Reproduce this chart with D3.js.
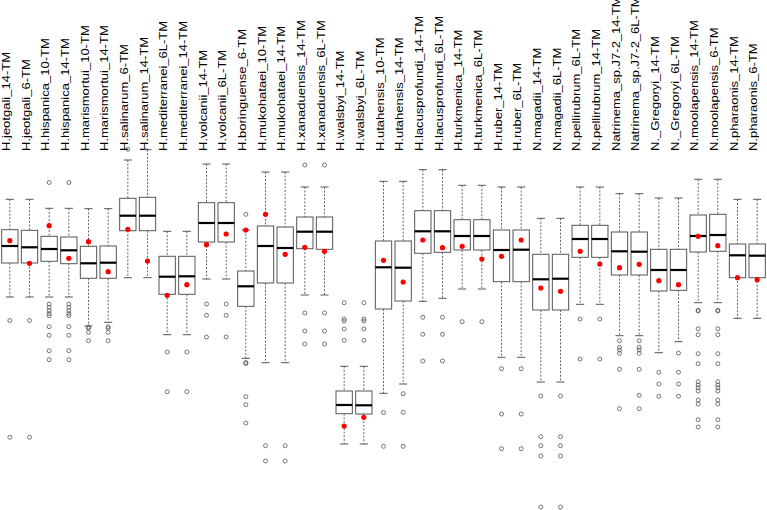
<!DOCTYPE html>
<html>
<head>
<meta charset="utf-8">
<script src="https://cdn.jsdelivr.net/npm/d3@7"></script>
<style>
  body { margin: 0; background: #fff; }
  svg { display: block; }
  .label { font-family: "Liberation Sans", Arial, sans-serif; font-size: 10.5px; fill: #000; }
  .box { fill: #fff; stroke: #555; stroke-width: 1; }
  .median { stroke: #000; stroke-width: 2.2; }
  .whisker { stroke: #666; stroke-width: 1; stroke-dasharray: 2,1.6; }
  .cap { stroke: #555; stroke-width: 1; }
  .outlier { fill: none; stroke: #555; stroke-width: 0.8; }
  .mean { fill: #f00; }
</style>
</head>
<body>
<svg width="767" height="510"></svg>
<script>
//Categories, left to right.
var categories = ['H.jeotgali_14-TM', 'H.jeotgali_6-TM', 'H.hispanica_10-TM', 'H.hispanica_14-TM',
  'H.marismortui_10-TM', 'H.marismortui_14-TM', 'H.salinarum_6-TM', 'H.salinarum_14-TM',
  'H.mediterranei_6L-TM', 'H.mediterranei_14-TM', 'H.volcanii_14-TM', 'H.volcanii_6L-TM',
  'H.boringuense_6-TM', 'H.mukohataei_10-TM', 'H.mukohataei_14-TM', 'H.xanaduensis_14-TM',
  'H.xanaduensis_6L-TM', 'H.walsbyi_14-TM', 'H.walsbyi_6L-TM', 'H.utahensis_10-TM',
  'H.utahensis_14-TM', 'H.lacusprofundi_14-TM', 'H.lacusprofundi_6L-TM', 'H.turkmenica_14-TM',
  'H.turkmenica_6L-TM', 'H.ruber_14-TM', 'H.ruber_6L-TM', 'N.magadii_14-TM', 'N.magadii_6L-TM',
  'N.pellirubrum_6L-TM', 'N.pellirubrum_14-TM', 'Natrinema_sp.J7-2_14-TM', 'Natrinema_sp.J7-2_6L-TM',
  'N._Gregoryi_14-TM', 'N._Gregoryi_6L-TM', 'N.moolapensis_14-TM', 'N.moolapensis_6-TM',
  'N.pharaonis_14-TM', 'N.pharaonis_6-TM'];

//Box statistics per category (same order as categories).
var whiskerHigh = [310.7, 310.7, 301.7, 301.7, 301.3, 301.3, 350, 360.3, 278.7, 278.7, 346, 346,
  280, 338, 338, 323, 323, 143.7, 143.7, 328.7, 328.7, 340.3, 340.3, 324.7, 324.7, 323, 323,
  291.7, 291.7, 323, 323, 316.3, 316.3, 312, 312, 330.7, 330.7, 310.7, 310.7];
var upperQuartile = [280.3, 279.7, 273.7, 273, 263.7, 264, 311.7, 312.7, 253.7, 253.7, 307.3, 307.3,
  239, 284, 283, 293, 293, 119, 119, 269, 269, 299.3, 299.3, 290.3, 290.3, 280, 280,
  255.7, 255.7, 284.7, 284.7, 278, 278, 260.7, 260.7, 295, 295.7, 266, 266];
var medians = [264, 262.7, 261, 259.7, 246.7, 247.3, 294.3, 294.3, 233.3, 233.7, 287, 287,
  223.7, 264, 262, 278.3, 278.3, 105, 104.7, 242.7, 242.3, 278.7, 278.7, 274, 274, 260, 260.3,
  230.7, 231.3, 271, 271, 258.7, 258.3, 240, 240, 274, 275, 254.7, 254.3];
var lowerQuartile = [247, 247, 248.7, 246.3, 231.7, 231.7, 279.3, 279.3, 215.7, 215.7, 268, 268,
  203.7, 227, 227, 261.3, 260.7, 96.3, 96, 201, 209, 256.7, 257.7, 260, 260, 228.3, 228.3,
  200, 200, 252.7, 252.7, 235, 235, 219, 219.7, 258, 258.7, 232.3, 232.3];
var whiskerLow = [213, 213, 213, 213, 184, 187.7, 232.3, 232.3, 175.3, 175.3, 231, 231,
  151.7, 147.3, 147.3, 215, 215, 66, 66, 116.7, 126, 208.7, 211.7, 221, 221, 152.7, 152.7,
  128, 128, 205.7, 205.7, 174.3, 174.3, 157.3, 168.3, 207.3, 207.3, 191.7, 191.7];
var means = [269.3, 246.7, 284.3, 251.7, 268.3, 238.3, 280.7, 249, 214.7, 225.3, 265.3, 276,
  280, 295.7, 255.7, 262.7, 258.7, 84, 92.7, 249.7, 228, 270, 262.3, 263.7, 251, 253.7, 270,
  222, 218.7, 258.7, 246, 242.3, 245.7, 229.3, 225.3, 273.7, 264.3, 232.3, 230.3];
var outliers = [
  [189.5, 72.7],
  [189.5, 72.7],
  [327.5, 206, 202.7, 199.3, 196.5, 194.3, 183.3, 174.7, 159.3, 150.3],
  [327.5, 206, 202.7, 199.3, 196.5, 194.3, 183.3, 174.7, 159.3, 150.3],
  [183, 181.7, 177.7, 169.3],
  [183.3, 181.7, 177.7, 169.3],
  [360.7],
  [],
  [158, 118.3],
  [158, 118.3],
  [206, 194.7, 173],
  [206, 194.7, 173],
  [295.7, 147.5, 146.5, 113.3, 105.3, 87],
  [64.3, 49],
  [64.3, 49],
  [345, 197, 179, 166],
  [345, 197, 179, 166],
  [207.3, 191, 189, 181, 169.7],
  [207.3, 191, 189, 181, 169.7],
  [97.5, 63.7],
  [116.3, 97.7, 63.7],
  [192.7, 175.7, 149],
  [192.7, 175.7, 149],
  [188.3],
  [188.3],
  [141.3, 96, 61.3],
  [141.3, 96, 61.3],
  [114, 73.3, 64.3, 54, 3],
  [114, 73.3, 64.3, 54, 3],
  [191, 151],
  [191, 151],
  [169.3, 162.7, 160, 156.7, 140.7, 101.3],
  [169.3, 162.7, 160, 156.7, 140.7, 114.7, 101.3],
  [137.7, 126, 113.7],
  [157, 137.7, 126, 113.7],
  [199.7, 199, 181.3, 175.3, 156.3, 146.3, 128.3, 125, 122.3, 119, 110, 106, 90.3, 83],
  [199.7, 199, 181.3, 175.3, 156.3, 146.3, 128.3, 125, 122.3, 119, 110, 106, 90.3, 83],
  [],
  []
];

var svg = d3.select('svg');
var width = +svg.attr('width'), height = +svg.attr('height');
var labelBase = 151;

var stats = categories.map(function(c, i) {
  return {name: c, hi: whiskerHigh[i], q3: upperQuartile[i], med: medians[i],
          q1: lowerQuartile[i], lo: whiskerLow[i], mean: means[i], out: outliers[i]};
});

//Scales.
var xScale = d3.scaleBand()
  .domain(categories)
  .range([0, width])
  .paddingInner(0.17)
  .paddingOuter(0.085);
var yScale = d3.scaleLinear()
  .domain([0, 360])
  .range([height, labelBase - 1]);

var bw = xScale.bandwidth();
var cx = function(d) { return xScale(d.name) + bw / 2; };

//Category labels, rotated, reading upward.
svg.append('g').selectAll('text')
  .data(stats)
  .enter().append('text')
  .attr('class', 'label')
  .attr('transform', function(d) {
    return 'translate(' + (cx(d) + 0.3) + ',' + labelBase + ') rotate(-90) scale(1.24,1)';
  })
  .text(function(d) { return d.name; });

var g = svg.append('g').selectAll('g.item')
  .data(stats)
  .enter().append('g')
  .attr('class', 'item');

//Whiskers.
g.append('line').attr('class', 'whisker')
  .attr('x1', cx).attr('x2', cx)
  .attr('y1', function(d) { return yScale(d.hi); })
  .attr('y2', function(d) { return yScale(d.q3); });
g.append('line').attr('class', 'whisker')
  .attr('x1', cx).attr('x2', cx)
  .attr('y1', function(d) { return yScale(d.q1); })
  .attr('y2', function(d) { return yScale(d.lo); });
g.append('line').attr('class', 'cap')
  .attr('x1', function(d) { return cx(d) - bw / 4; })
  .attr('x2', function(d) { return cx(d) + bw / 4; })
  .attr('y1', function(d) { return yScale(d.hi); })
  .attr('y2', function(d) { return yScale(d.hi); });
g.append('line').attr('class', 'cap')
  .attr('x1', function(d) { return cx(d) - bw / 4; })
  .attr('x2', function(d) { return cx(d) + bw / 4; })
  .attr('y1', function(d) { return yScale(d.lo); })
  .attr('y2', function(d) { return yScale(d.lo); });

//Boxes and medians.
g.append('rect').attr('class', 'box')
  .attr('x', function(d) { return xScale(d.name); })
  .attr('width', bw)
  .attr('y', function(d) { return yScale(d.q3); })
  .attr('height', function(d) { return yScale(d.q1) - yScale(d.q3); });
g.append('line').attr('class', 'median')
  .attr('x1', function(d) { return xScale(d.name); })
  .attr('x2', function(d) { return xScale(d.name) + bw; })
  .attr('y1', function(d) { return yScale(d.med); })
  .attr('y2', function(d) { return yScale(d.med); });

//Outliers.
g.selectAll('circle.outlier')
  .data(function(d) { return d.out.map(function(v) { return {x: cx(d), v: v}; }); })
  .enter().append('circle')
  .attr('class', 'outlier')
  .attr('cx', function(p) { return p.x; })
  .attr('cy', function(p) { return yScale(p.v); })
  .attr('r', 2);

//Means on top.
svg.append('g').selectAll('circle')
  .data(stats)
  .enter().append('circle')
  .attr('class', 'mean')
  .attr('cx', cx)
  .attr('cy', function(d) { return yScale(d.mean); })
  .attr('r', 2.6);
</script>
</body>
</html>
